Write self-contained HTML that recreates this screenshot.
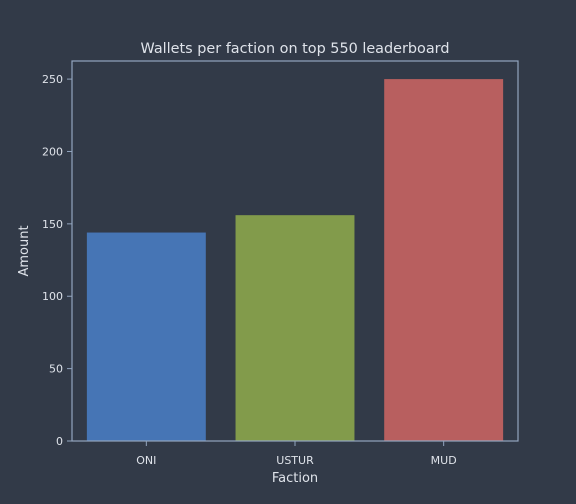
<!DOCTYPE html>
<html><head><meta charset="utf-8"><style>
html,body{margin:0;padding:0;background:#323a48;}
svg{display:block;font-family:"DejaVu Sans","Liberation Sans",sans-serif;}
</style></head><body>
<svg id="chart" width="576" height="504">
<rect x="0" y="0" width="576" height="504" fill="#323a48"/>
<text x="295" y="53" fill="#dfe3ea" font-size="14.4" text-anchor="middle">Wallets per faction on top 550 leaderboard</text>
<g id="bars"></g><g id="axes"></g>
<rect x="72" y="61" width="446" height="380" fill="none" stroke="#93a5bf" stroke-width="1.2"/>
<text x="295" y="482" fill="#dfe3ea" font-size="13" text-anchor="middle">Faction</text>
<text x="28" y="251" fill="#dfe3ea" font-size="13" text-anchor="middle" transform="rotate(-90 28 251)">Amount</text>
</svg>
<script>
const categories = ["ONI", "USTUR", "MUD"];
const values = [144, 156, 250];
const colors = ["#4675b5", "#829b4b", "#b85f5f"];
const yTicks = [0, 50, 100, 150, 200, 250];
const NS = "http://www.w3.org/2000/svg";
const x0 = 72, x1 = 518, y0 = 441, y1 = 61, yMax = 262.5;
function xs(i){ return x0 + (i + 0.5) / categories.length * (x1 - x0); }
function ys(v){ return y0 - v / yMax * (y0 - y1); }
const bw = 0.8 * (x1 - x0) / categories.length;
const bars = document.getElementById("bars"), axes = document.getElementById("axes");
function mk(tag, attrs, parent){ const e = document.createElementNS(NS, tag); for (const k in attrs) e.setAttribute(k, attrs[k]); parent.appendChild(e); return e; }
categories.forEach((c, i) => {
  const r = mk("rect", {x: xs(i) - bw/2, y: ys(values[i]), width: bw, height: y0 - ys(values[i]), fill: colors[i]}, bars);
  
  
  const t = mk("line", {x1: xs(i), x2: xs(i), y1: y0, y2: y0 + 5, stroke: "#93a5bf"}, axes);
  
  
  const l = mk("text", {x: xs(i), y: y0 + 23, fill: "#dfe3ea", "font-size": 11, "text-anchor": "middle"}, axes);
  l.textContent = c;
  
  
});
yTicks.forEach(v => {
  const t = mk("line", {x1: x0 - 5, x2: x0, y1: ys(v), y2: ys(v), stroke: "#93a5bf"}, axes);
  
  
  const l = mk("text", {x: x0 - 9, y: ys(v) + 4, fill: "#dfe3ea", "font-size": 11, "text-anchor": "end"}, axes);
  l.textContent = v;
  
  
});
</script>
</body></html>
